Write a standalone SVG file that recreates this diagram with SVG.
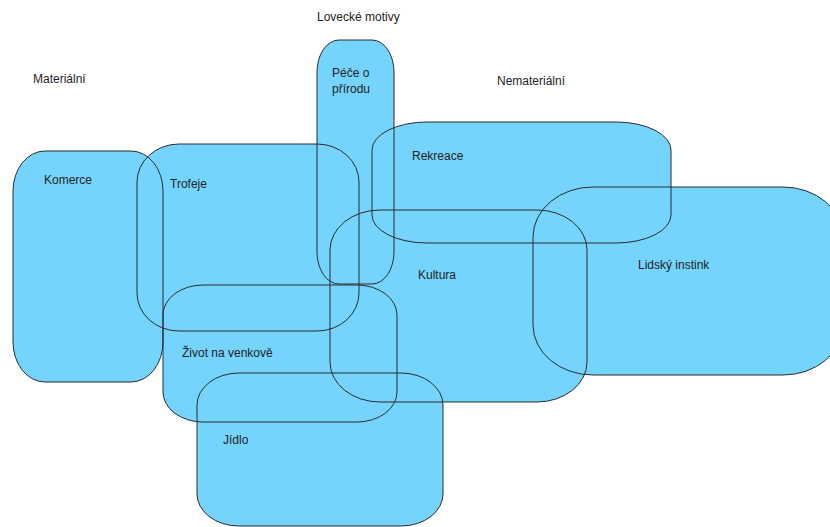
<svg xmlns="http://www.w3.org/2000/svg" xmlns:xlink="http://www.w3.org/1999/xlink" width="830" height="527" viewBox="0 0 830 527">
  <style>
    .fill { fill: #75D4FE; stroke: none; }
    .outline { fill: none; stroke: #2b2b2b; stroke-width: 1; }
    text { font-family: "Liberation Sans", Arial, sans-serif; font-size: 12px; fill: #222222; }
  </style>
  <defs>
    <rect id="s-komerce" x="13" y="151" width="150" height="231" rx="32" ry="40"/>
    <rect id="s-trofeje" x="137" y="144" width="222" height="187" rx="42" ry="38"/>
    <rect id="s-pece" x="317" y="40" width="77" height="244" rx="22" ry="32"/>
    <rect id="s-rekreace" x="372" y="122" width="299" height="121" rx="55" ry="28"/>
    <rect id="s-kultura" x="330" y="210" width="257" height="192" rx="50" ry="40"/>
    <rect id="s-lidsky" x="533" y="187" width="310" height="188" rx="60" ry="50"/>
    <rect id="s-zivot" x="163" y="285" width="234" height="137" rx="40" ry="30"/>
    <rect id="s-jidlo" x="197" y="373" width="246" height="153" rx="42" ry="32"/>
  </defs>
  <rect width="830" height="527" fill="#ffffff"/>

  <g id="labels">
    <text x="317" y="21">Lovecké motivy</text>
    <text x="33" y="83">Materiální</text>
    <text x="497" y="85">Nemateriální</text>
  </g>

  <g id="node-komerce">
    <use xlink:href="#s-komerce" href="#s-komerce" class="fill"/>
    <text x="44" y="184">Komerce</text>
  </g>
  <g id="node-trofeje">
    <use xlink:href="#s-trofeje" href="#s-trofeje" class="fill"/>
    <text x="170" y="188">Trofeje</text>
  </g>
  <g id="node-pece">
    <use xlink:href="#s-pece" href="#s-pece" class="fill"/>
    <text x="332" y="77">Péče o</text>
    <text x="332" y="93">přírodu</text>
  </g>
  <g id="node-rekreace">
    <use xlink:href="#s-rekreace" href="#s-rekreace" class="fill"/>
    <text x="412" y="160">Rekreace</text>
  </g>
  <g id="node-kultura">
    <use xlink:href="#s-kultura" href="#s-kultura" class="fill"/>
    <text x="418" y="279">Kultura</text>
  </g>
  <g id="node-lidsky">
    <use xlink:href="#s-lidsky" href="#s-lidsky" class="fill"/>
    <text x="638" y="269">Lidský instink</text>
  </g>
  <g id="node-zivot">
    <use xlink:href="#s-zivot" href="#s-zivot" class="fill"/>
    <text x="182" y="357">Život na venkově</text>
  </g>
  <g id="node-jidlo">
    <use xlink:href="#s-jidlo" href="#s-jidlo" class="fill"/>
    <text x="223" y="444">Jídlo</text>
  </g>

  <g id="connectors">
    <use xlink:href="#s-komerce" href="#s-komerce" class="outline"/>
    <use xlink:href="#s-trofeje" href="#s-trofeje" class="outline"/>
    <use xlink:href="#s-pece" href="#s-pece" class="outline"/>
    <use xlink:href="#s-rekreace" href="#s-rekreace" class="outline"/>
    <use xlink:href="#s-kultura" href="#s-kultura" class="outline"/>
    <use xlink:href="#s-lidsky" href="#s-lidsky" class="outline"/>
    <use xlink:href="#s-zivot" href="#s-zivot" class="outline"/>
    <use xlink:href="#s-jidlo" href="#s-jidlo" class="outline"/>
  </g>
</svg>
